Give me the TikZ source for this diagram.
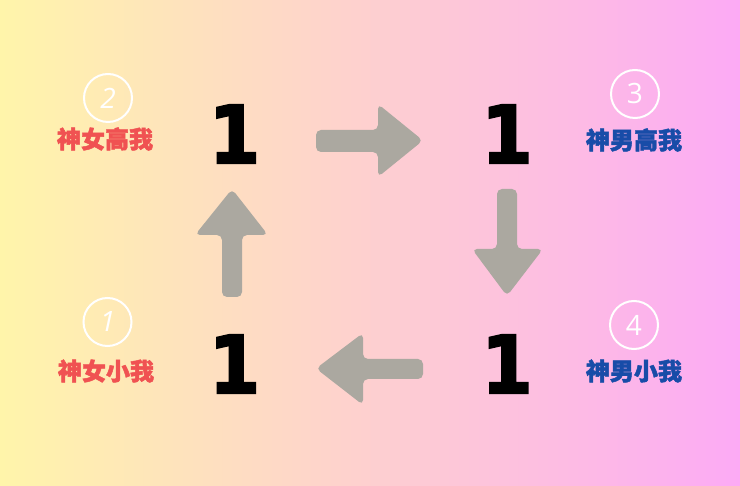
\documentclass[tikz,border=0pt]{standalone}
\usepackage{fontspec}
\newfontfamily\cjk[FakeBold=2]{Noto Sans CJK SC}
\newfontfamily\numfont[FakeBold=2.5,FakeStretch=0.92]{DejaVu Sans}
\newfontfamily\handfont{Open Sans}
\definecolor{bgL}{RGB}{255,245,170}
\definecolor{bgM}{RGB}{255,205,208}
\definecolor{bgR}{RGB}{252,170,245}
\definecolor{arrowgray}{RGB}{171,168,160}
\definecolor{labred}{RGB}{240,82,82}
\definecolor{labblue}{RGB}{24,76,168}
\tikzset{
  num/.style={inner sep=0pt, font=\numfont\bfseries\fontsize{80}{80}\selectfont, text=black},
  lab/.style={inner sep=0pt, font=\cjk\bfseries\fontsize{24}{24}\selectfont},
  badge/.style={circle, draw=white, line width=2pt, minimum size=48pt, inner sep=0pt,
     font=\handfont\fontsize{28}{28}\selectfont, text=white},
  blk/.style={fill=arrowgray, rounded corners=5pt}
}
\begin{document}
\begin{tikzpicture}[x=1pt,y=-1pt]
\shade[left color=bgL, middle color=bgM, right color=bgR] (0,0) rectangle (740,486);
\useasboundingbox (0,0) rectangle (740,486);
% numbers
\node[num] (n2) at (234.5,134) {1};
\node[num] (n3) at (507,134) {1};
\node[num] (n1) at (234.5,364) {1};
\node[num] (n4) at (507,364) {1};
% labels
\node[lab, text=labred] (l2) at (105,139) {神女高我};
\node[lab, text=labblue] (l3) at (634,140) {神男高我};
\node[lab, text=labred] (l1) at (106,371) {神女小我};
\node[lab, text=labblue] (l4) at (634,371) {神男小我};
% badges
\node[badge] (b2) at (108,98) {\textit{2}};
\node[badge] (b3) at (635,94) {3};
\node[badge] (b1) at (107.5,322) {\textit{1}};
\node[badge] (b4) at (634,325) {4};
% arrows
\fill[blk] (316,130) -- (378,130) -- (378,104) -- (423,140.5) -- (378,177) -- (378,152) -- (316,152) -- cycle;
\fill[blk] (497,189) -- (517,189) -- (517,249) -- (543,249) -- (507,296) -- (472,249) -- (497,249) -- cycle;
\fill[blk] (423,359) -- (363,359) -- (363,333) -- (316,368.5) -- (363,405) -- (363,379) -- (423,379) -- cycle;
\fill[blk] (222,297) -- (222,235) -- (195,235) -- (232,189) -- (268,235) -- (242,235) -- (242,297) -- cycle;
\end{tikzpicture}
\end{document}
